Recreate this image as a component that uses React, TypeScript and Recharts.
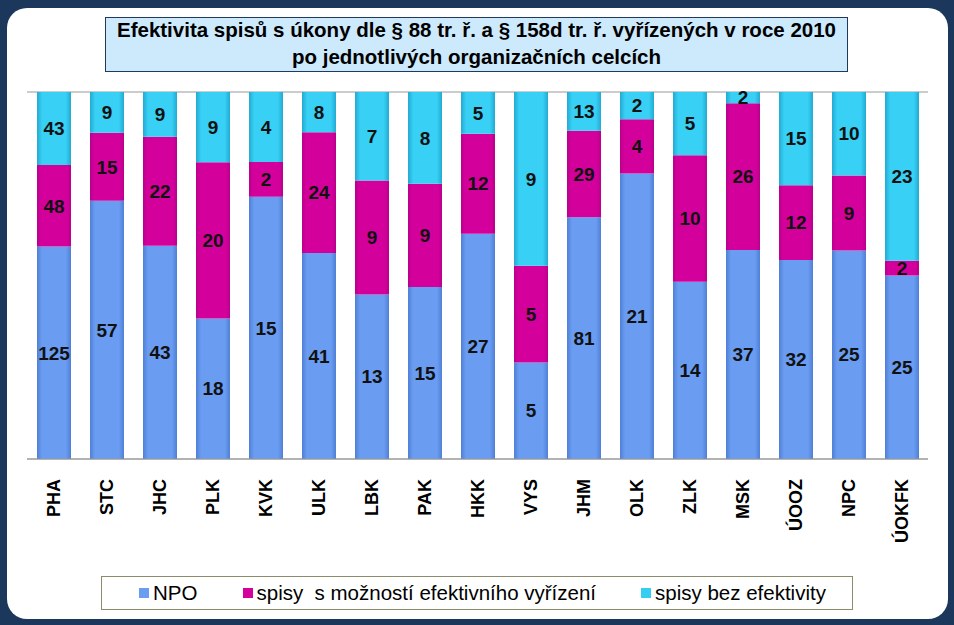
import React from 'react';
import { BarChart, Bar, XAxis, YAxis, CartesianGrid, LabelList } from 'recharts';

const categories = ['PHA', 'STC', 'JHC', 'PLK', 'KVK', 'ULK', 'LBK', 'PAK', 'HKK', 'VYS', 'JHM', 'OLK', 'ZLK', 'MSK', 'ÚOOZ', 'NPC', 'ÚOKFK'];
const npo = [125, 57, 43, 18, 15, 41, 13, 15, 27, 5, 81, 21, 14, 37, 32, 25, 25];
const sMoznosti = [48, 15, 22, 20, 2, 24, 9, 9, 12, 5, 29, 4, 10, 26, 12, 9, 2];
const bezEfektivity = [43, 9, 9, 9, 4, 8, 7, 8, 5, 9, 13, 2, 5, 2, 15, 10, 23];
const seriesNames = ['NPO', 'spisy  s možností efektivního vyřízení', 'spisy bez efektivity'];
const yTicks = [0, 0.1, 0.2, 0.3, 0.4, 0.5, 0.6, 0.7, 0.8, 0.9, 1];
const titleLines = [
  'Efektivita spisů s úkony dle § 88 tr. ř. a § 158d tr. ř. vyřízených v roce 2010',
  'po jednotlivých organizačních celcích',
];

const data = categories.map((cat, i) => ({
  cat,
  npo: npo[i],
  moz: sMoznosti[i],
  bez: bezEfektivity[i],
}));

const FONT = '"Liberation Sans", Arial, sans-serif';
const colors = ['#6a9df2', '#d4009c', '#36cdf2'];

const XTick = (props: any) => {
  const { x, y, payload } = props;
  const ay = y + 12;
  return (
    <text
      x={x}
      y={ay}
      transform={`rotate(-90, ${x}, ${ay})`}
      textAnchor="end"
      dominantBaseline="central"
      fontFamily={FONT}
      fontWeight="bold"
      fontSize={18}
      fill="#000"
    >
      {payload.value}
    </text>
  );
};

const labelStyle = { fontFamily: FONT, fontWeight: 'bold' as const, fontSize: 19, fill: '#111' };

export default function App() {
  return (
    <div style={{ position: 'absolute', left: 0, top: 0, width: 954, height: 625, background: '#1b385c', overflow: 'hidden' }}>
      <div style={{ position: 'absolute', left: 7, top: 8, width: 941, height: 611, background: '#fff', borderRadius: 20 }} />
      <div style={{ position: 'absolute', left: 0, top: 0 }}>
        <BarChart
          width={954}
          height={625}
          data={data}
          stackOffset="expand"
          barSize={34}
          margin={{ top: 92, right: 26, bottom: 66, left: 27 }}
        >
          <defs>
            <linearGradient id="gNpo" x1="0" y1="0" x2="1" y2="0">
              <stop offset="0%" stopColor="#4f7fd6" />
              <stop offset="15%" stopColor="#6a9df2" />
              <stop offset="85%" stopColor="#6a9df2" />
              <stop offset="100%" stopColor="#4f7fd6" />
            </linearGradient>
            <linearGradient id="gMoz" x1="0" y1="0" x2="1" y2="0">
              <stop offset="0%" stopColor="#b8008a" />
              <stop offset="12%" stopColor="#d4009c" />
              <stop offset="88%" stopColor="#d4009c" />
              <stop offset="100%" stopColor="#b8008a" />
            </linearGradient>
            <linearGradient id="gBez" x1="0" y1="0" x2="1" y2="0">
              <stop offset="0%" stopColor="#22a9d2" />
              <stop offset="15%" stopColor="#38d0f4" />
              <stop offset="85%" stopColor="#38d0f4" />
              <stop offset="100%" stopColor="#22a9d2" />
            </linearGradient>
          </defs>
          <CartesianGrid vertical={false} stroke="#999" />
          <XAxis
            dataKey="cat"
            height={100}
            interval={0}
            tickLine={false}
            axisLine={{ stroke: '#999' }}
            tick={<XTick />}
          />
          <YAxis
            width={0}
            domain={[0, 1]}
            ticks={yTicks}
            tick={false}
            tickLine={false}
            axisLine={{ stroke: '#999' }}
          />
          <Bar dataKey="npo" name={seriesNames[0]} stackId="a" fill="url(#gNpo)" isAnimationActive={false}>
            <LabelList dataKey="npo" position="center" style={labelStyle} />
          </Bar>
          <Bar dataKey="moz" name={seriesNames[1]} stackId="a" fill="url(#gMoz)" isAnimationActive={false}>
            <LabelList dataKey="moz" position="center" style={labelStyle} />
          </Bar>
          <Bar dataKey="bez" name={seriesNames[2]} stackId="a" fill="url(#gBez)" isAnimationActive={false}>
            <LabelList dataKey="bez" position="center" style={labelStyle} />
          </Bar>
        </BarChart>
      </div>
      <div
        style={{
          position: 'absolute', left: 105, top: 17, width: 743, height: 55,
          background: '#cde9fc', border: '1px solid #1f3a5a', boxSizing: 'border-box',
          fontFamily: FONT, fontWeight: 'bold', fontSize: 20.5, color: '#000',
          textAlign: 'center', lineHeight: '27px',
        }}
      >
        <div style={{ marginTop: -2 }}>{titleLines[0]}</div>
        <div>{titleLines[1]}</div>
      </div>
      <div
        style={{
          position: 'absolute', left: 101, top: 576, width: 752, height: 34,
          border: '1px solid #8c8c6c', boxSizing: 'border-box', background: '#fff',
          fontFamily: FONT, fontSize: 20.5, color: '#000', paddingLeft: 11,
          display: 'flex', alignItems: 'center', justifyContent: 'center', gap: 45,
        }}
      >
        {seriesNames.map((n, i) => (
          <div key={n} style={{ display: 'flex', alignItems: 'center', gap: 4 }}>
            <span style={{ width: 10, height: 10, background: colors[i], display: 'inline-block' }} />
            <span style={{ whiteSpace: 'pre' }}>{n}</span>
          </div>
        ))}
      </div>
    </div>
  );
}
